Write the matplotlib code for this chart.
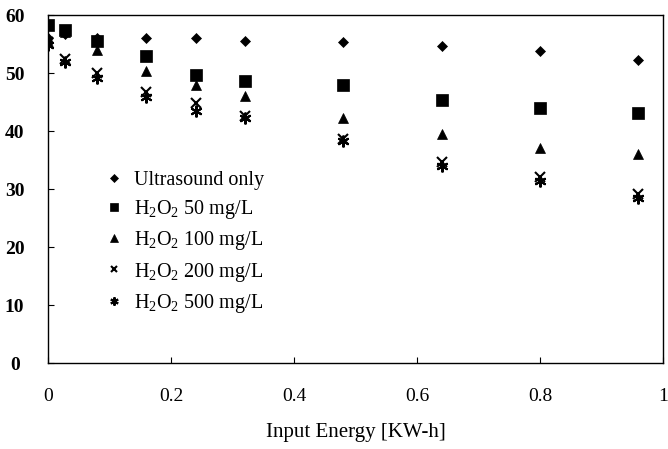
import matplotlib
matplotlib.use("Agg")
import matplotlib.pyplot as plt

plt.rcParams['font.family'] = ['Liberation Serif', 'DejaVu Serif']
plt.rcParams['mathtext.fontset'] = 'custom'
plt.rcParams['mathtext.rm'] = 'Liberation Serif'
plt.rcParams['mathtext.it'] = 'Liberation Serif:italic'
plt.rcParams['mathtext.bf'] = 'Liberation Serif:bold'

energy = [0, 0.027, 0.08, 0.16, 0.24, 0.32, 0.48, 0.64, 0.80, 0.96]
ultrasound = [56.0, 56.8, 56.0, 56.0, 56.0, 55.5, 55.3, 54.6, 53.8, 52.3]
h2o2_50 = [58.3, 57.5, 55.5, 53.0, 49.7, 48.6, 47.9, 45.4, 43.9, 43.1]
h2o2_100 = [56.0, 57.0, 54.0, 50.4, 47.9, 46.0, 42.3, 39.5, 37.0, 36.1]
h2o2_200 = [55.4, 52.4, 50.0, 46.8, 44.9, 42.6, 38.6, 34.7, 32.1, 29.2]
h2o2_500 = [54.8, 51.9, 49.2, 45.8, 43.4, 42.3, 38.2, 33.9, 31.3, 28.5]

labels = ['Ultrasound only', r'H$_2$O$_2$ 50 mg/L', r'H$_2$O$_2$ 100 mg/L',
          r'H$_2$O$_2$ 200 mg/L', r'H$_2$O$_2$ 500 mg/L']
xticks = [0, 0.2, 0.4, 0.6, 0.8, 1]
xticklabels = ['0', '0.2', '0.4', '0.6', '0.8', '1']
yticks = [0, 10, 20, 30, 40, 50, 60]

fig = plt.figure(figsize=(6.68, 4.49), dpi=100)
ax = fig.add_axes([48/668, 1-363/449, 615/668, 348/449])

series = [ultrasound, h2o2_50, h2o2_100, h2o2_200, h2o2_500]
markers = ['D', 's', '^', 'x', (6, 2, 0)]
sizes = [5.5, 8, 7.5, 7, 8.5]
for ys, m, s, lab in zip(series, markers, sizes, labels):
    ax.plot(energy, ys, linestyle='none', marker=m, markersize=s, color='black',
            markeredgewidth=1.5 if m in ('x', (6, 2, 0)) else 0.5, label=lab)

ax.set_xlim(0, 1)
ax.set_ylim(0, 60)
ax.set_xticks(xticks)
ax.set_xticklabels(xticklabels, fontsize=14)
ax.set_yticks(yticks)
ax.set_yticklabels([str(v) for v in yticks], fontsize=14, fontweight='bold', ha='center')
ax.tick_params(axis='x', direction='in', length=4, pad=18, top=False)
ax.tick_params(axis='y', direction='in', length=4, pad=24, right=False)
for sp in ax.spines.values():
    sp.set_linewidth(1.0)

ax.set_xlabel('Input Energy [KW-h]', fontsize=15, labelpad=13)

leg = ax.legend(loc='upper left', bbox_to_anchor=(0.095, 0.551), frameon=False,
                fontsize=14.5, handlelength=0.8, handletextpad=0.55, labelspacing=0.4,
                borderpad=0, borderaxespad=0, markerscale=0.7)

fig.savefig('out.png', dpi=100)
